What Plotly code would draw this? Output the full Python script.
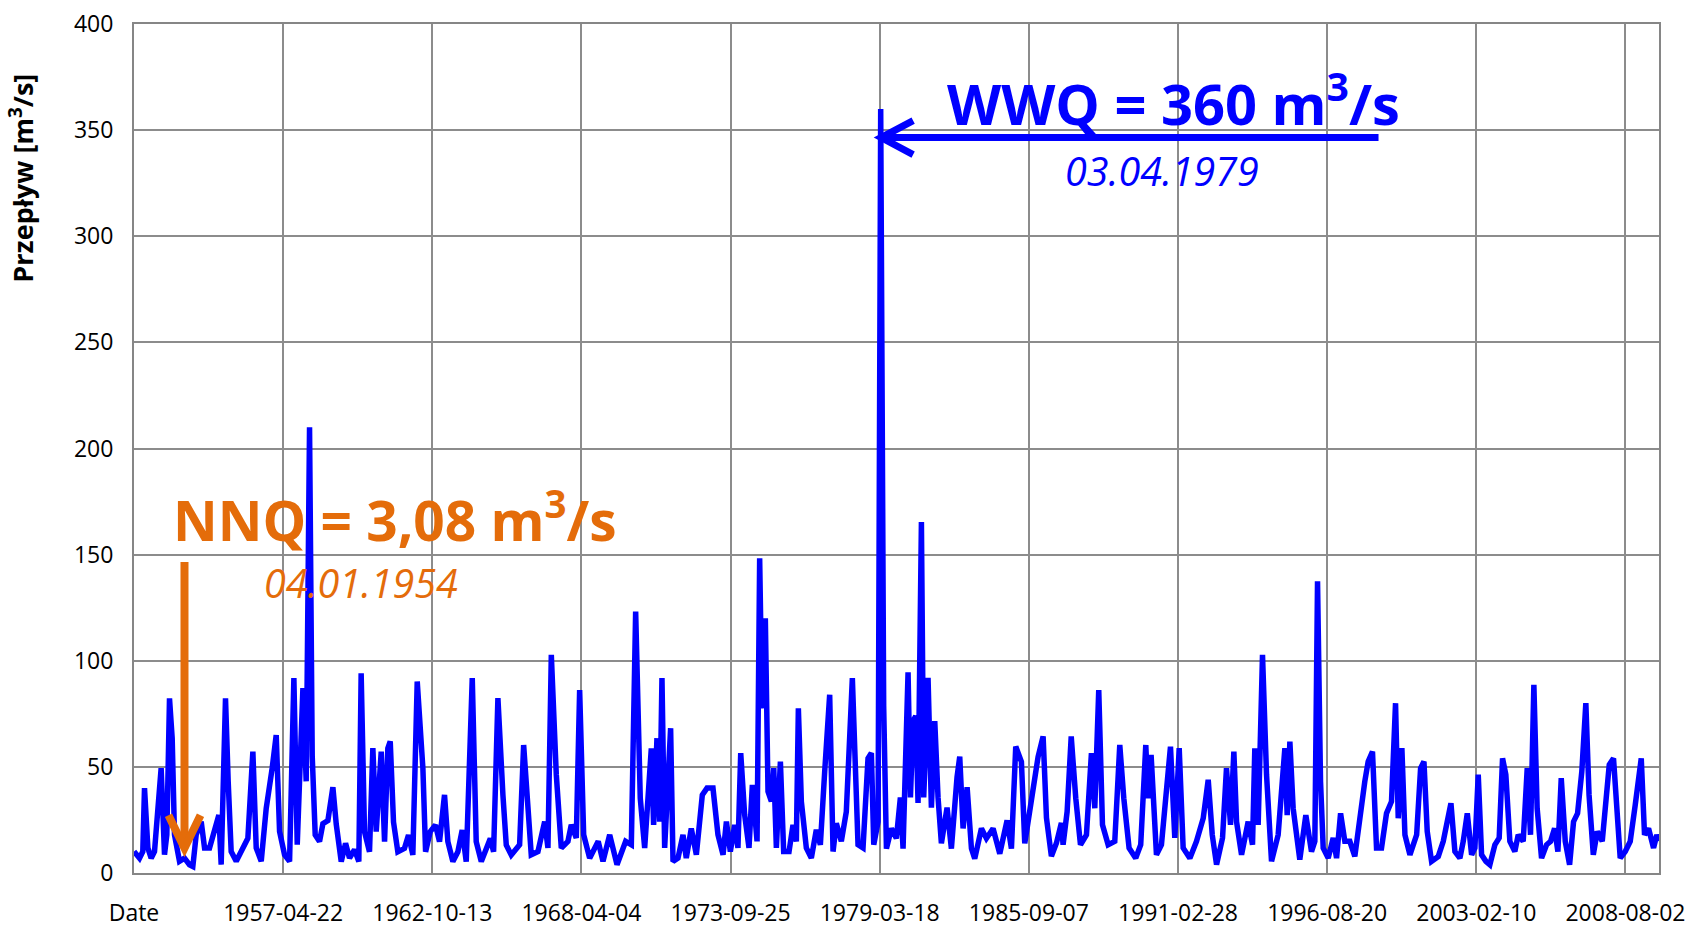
import plotly.graph_objects as go

# day index (category position, Excel-style) and daily flow
day_idx = [1, 74, 118, 141, 186, 230, 275, 320, 364, 409, 440, 476, 512, 543, 610, 677, 744, 789, 834, 901,
           946, 1013, 1080, 1138, 1169, 1227, 1263, 1303, 1371, 1460, 1527, 1594, 1639, 1706, 1773, 1853, 1907,
           1952, 2019, 2086, 2144, 2189, 2265, 2309, 2354, 2390, 2430,
           2488, 2533, 2600, 2667, 2712, 2779, 2837, 2890, 2957, 3015, 3046, 3091, 3158, 3203, 3248, 3315, 3360,
           3404, 3436, 3480, 3538, 3627, 3681, 3739, 3798, 3874, 3910, 3972, 4043, 4097, 4164, 4209, 4276, 4343,
           4401, 4455, 4536, 4589, 4657, 4724, 4778, 4822, 4880, 4947, 4992, 5059, 5148,
           5171, 5225, 5283, 5327, 5417, 5507, 5551, 5596, 5663, 5730, 5819, 5864, 5931, 5976, 6030, 6110, 6225,
           6289, 6379, 6477, 6593, 6669, 6727, 6789, 6848, 6937, 6968, 7013, 7049, 7080, 7116, 7196, 7228, 7295,
           7362, 7406, 7473, 7541, 7621, 7684,
           7764, 7831, 7899, 7944, 7997, 8055, 8099, 8136, 8189, 8247, 8292, 8355, 8390, 8422, 8466, 8502, 8547,
           8579, 8614, 8668, 8712, 8784, 8837, 8882, 8909, 8949, 9016, 9083, 9150, 9204, 9262, 9329, 9374, 9418,
           9485, 9552, 9633, 9664, 9709, 9776, 9843, 9888, 9920, 9978, 10013, 10053, 10090, 10157, 10223, 10277,
           10313, 10380, 10412, 10447, 10483, 10514, 10559, 10590, 10648, 10693, 10738, 10782, 10827, 10903, 10961,
           11037, 11073, 11118, 11172, 11230, 11274, 11364, 11431, 11520, 11610, 11708, 11766, 11824, 11900, 11945,
           12012, 12066, 12124, 12191, 12236, 12302, 12369, 12436,
           12459, 12513, 12568, 12629, 12692, 12772, 12839, 12884, 12937, 12987, 13063, 13152, 13219, 13273, 13344,
           13433, 13500, 13568, 13599, 13639, 13711, 13778, 13836, 13899, 13957, 14016, 14069, 14159, 14248, 14338,
           14405, 14459, 14517, 14597, 14650, 14704, 14749, 14785, 14852, 14941, 14999,
           15030, 15075, 15133, 15187, 15254, 15343, 15388, 15433, 15464, 15500, 15544, 15589, 15633, 15714, 15790,
           15835, 15871, 15911, 15947, 16014, 16081, 16126, 16180, 16237, 16304, 16371, 16461, 16505, 16550, 16608,
           16662, 16729, 16796, 16863, 16917, 16953, 17002, 17043, 17110, 17200, 17253, 17298, 17342, 17400, 17490,
           17557, 17660,
           17713, 17780, 17825, 17879, 17937, 17981, 18026, 18071, 18129, 18182, 18249, 18307, 18352, 18396, 18450,
           18517, 18562, 18629, 18683, 18727, 18772, 18816, 18875, 18942, 18996, 19050, 19094, 19139, 19193, 19251,
           19304, 19358, 19415, 19469, 19512, 19569, 19622, 19689, 19733, 19783, 19840, 19885, 19930, 19997, 20064,
           20131, 20212, 20256, 20310, 20377, 20421, 20448]
flow = [10.1, 7.0, 10.1, 40.0, 11.8, 7.0, 10.1, 27.3, 49.4, 8.6, 18.0, 82.3, 63.5, 18.0, 5.5, 7.0, 3.9, 3.1, 18.0, 24.2,
        11.8, 11.8, 19.6, 27.3, 3.9, 82.3, 43.2, 10.1, 5.5, 11.8, 16.4, 57.2, 11.8, 5.5, 30.5, 49.4, 65.0,
        19.6, 8.6, 5.5, 91.8, 13.3, 87.1, 43.2, 210.0, 55.0, 18.0,
        14.8, 23.2, 24.7, 40.4, 23.0, 5.4, 14.0, 7.0, 11.0, 5.4, 94.1, 19.5, 10.0, 58.8, 19.5, 57.2, 14.8,
        58.8, 62.0, 24.0, 10.0, 11.6, 17.9, 8.5, 90.2, 49.3, 10.0, 19.5, 22.6, 14.8, 36.8, 14.8, 5.4, 10.0,
        20.2, 5.4, 91.8, 14.8, 5.4, 11.6, 16.3, 10.0, 82.4, 36.8, 13.2, 8.5, 13.2,
        13.3, 60.3, 33.7, 8.6, 10.1, 24.2, 11.8, 102.8, 46.3, 11.8, 14.9, 22.7, 16.5, 86.2, 18.0, 7.0, 14.9,
        5.5, 18.0, 3.9, 14.9, 13.3, 123.2, 35.2, 11.8, 58.7, 22.7, 63.5, 24.2, 91.8, 11.8, 68.2, 5.5, 7.0,
        18.0, 7.0, 21.0, 8.6, 36.8, 40.0,
        40.0, 18.0, 8.6, 24.2, 10.1, 22.7, 11.8, 56.5, 27.3, 11.8, 41.5, 14.9, 148.3, 77.6, 120.0, 38.4, 33.7,
        49.4, 11.8, 52.5, 10.1, 10.1, 22.7, 14.9, 77.6, 33.7, 11.8, 7.0, 20.4, 13.3, 47.8, 84.0, 10.1, 23.4,
        14.9, 28.9, 91.8, 58.8, 13.3, 11.8, 54.0, 56.5, 13.3, 24.2, 360.0, 78.8, 11.5, 21.0, 16.3, 35.6,
        11.5, 94.5, 35.6, 71.6, 74.0, 33.0, 165.4, 35.6, 92.0, 30.8, 71.6, 35.6, 14.0, 30.8, 11.5,
        45.2, 54.8, 21.0, 40.4, 11.5, 6.7, 21.0, 16.3, 21.0, 9.1, 24.8, 11.5, 59.6, 52.4, 14.0,
        30.8, 40.4, 54.8, 64.4, 26.0, 7.9, 14.0, 23.6,
        13.3, 28.9, 64.3, 35.2, 13.3, 18.0, 56.5, 30.5, 86.2, 22.7, 13.3, 14.9, 60.3, 35.2, 11.8,
        7.0, 13.3, 60.3, 35.2, 55.7, 8.6, 13.3, 38.4, 59.5, 16.5, 58.8, 11.8, 7.0, 14.9, 25.8,
        43.9, 18.0, 3.9, 16.5, 49.4, 22.7, 57.2, 24.2, 8.6, 24.2, 13.3,
        58.8, 22.7, 102.8, 46.3, 5.5, 18.0, 41.5, 58.8, 27.3, 61.9, 30.5, 18.0, 6.3, 27.3, 10.1,
        14.9, 137.4, 43.2, 11.8, 7.0, 16.5, 7.0, 28.1, 14.9, 14.9, 7.8, 33.7, 43.2, 52.5, 57.2,
        11.8, 11.8, 28.1, 33.7, 80.0, 25.8, 58.8, 18.0, 8.6, 18.0, 49.4, 52.5, 19.6, 5.5, 7.8,
        14.9, 32.9,
        10.1, 7.0, 14.9, 28.1, 8.6, 11.8, 46.3, 8.6, 5.5, 3.9, 13.3, 16.5, 54.0, 46.3, 14.9,
        10.1, 18.0, 14.9, 49.4, 18.0, 88.7, 30.5, 7.0, 13.3, 14.9, 21.0, 10.1, 44.7, 14.9, 3.9,
        24.2, 28.1, 47.8, 80.0, 36.8, 8.6, 19.6, 14.9, 30.5, 51.0, 54.0, 27.3, 7.0, 10.1, 14.9,
        32.0, 54.0, 18.0, 21.0, 11.8, 18.0, 15.0]

tick_pos = [0, 2000, 4000, 6000, 8000, 10000, 12000, 14000, 16000, 18000, 20000]
tick_text = ["Date", "1957-04-22", "1962-10-13", "1968-04-04", "1973-09-25", "1979-03-18",
             "1985-09-07", "1991-02-28", "1996-08-20", "2003-02-10", "2008-08-02"]

X_MAX = 20450
BLUE = "#0000FF"
ORANGE = "#E46C0A"
GRID = "#8c8c8c"

# plot area size in px, used to size the arrow heads
PLOT_W, PLOT_H = 1525, 849
px_x = X_MAX / PLOT_W
px_y = 400 / PLOT_H

fig = go.Figure()
fig.add_trace(go.Scatter(x=day_idx, y=flow, mode="lines",
                         line=dict(color=BLUE, width=5.5), showlegend=False))

# WWQ arrow (horizontal, pointing at the 1979 peak)
wwq_tip = (10019, 346.5)
wwq_tail_x = 16689
# NNQ arrow (vertical, pointing down)
nnq_tip = (677, 11.7)
nnq_top = 146.5

shapes = [
    dict(type="line", xref="x", yref="y", x0=wwq_tip[0], y0=wwq_tip[1], x1=wwq_tail_x, y1=wwq_tip[1],
         line=dict(color=BLUE, width=7)),
    dict(type="path", xref="x", yref="y",
         path="M {a},{b} L {c},{d} L {a},{e}".format(
             a=wwq_tip[0] + 32 * px_x, b=wwq_tip[1] + 17 * px_y, c=wwq_tip[0], d=wwq_tip[1],
             e=wwq_tip[1] - 17 * px_y),
         line=dict(color=BLUE, width=7)),
    dict(type="line", xref="x", yref="y", x0=nnq_tip[0], y0=nnq_tip[1], x1=nnq_tip[0], y1=nnq_top,
         line=dict(color=ORANGE, width=8)),
    dict(type="path", xref="x", yref="y",
         path="M {a},{b} L {c},{d} L {e},{b}".format(
             a=nnq_tip[0] - 16 * px_x, b=nnq_tip[1] + 33 * px_y, c=nnq_tip[0], d=nnq_tip[1],
             e=nnq_tip[0] + 16 * px_x),
         line=dict(color=ORANGE, width=8)),
]

annotations = [
    dict(text="WWQ = 360 m<sup>3</sup>/s", x=13944, y=364.4, xref="x", yref="y", showarrow=False,
         xanchor="center", yanchor="middle",
         font=dict(family="Open Sans", size=56, color=BLUE, weight="bold")),
    dict(text="<i>03.04.1979</i>", x=13780, y=330.8, xref="x", yref="y", showarrow=False,
         xanchor="center", yanchor="middle",
         font=dict(family="Open Sans", size=39.5, color=BLUE)),
    dict(text="NNQ = 3,08 m<sup>3</sup>/s", x=3494, y=167.5, xref="x", yref="y", showarrow=False,
         xanchor="center", yanchor="middle",
         font=dict(family="Open Sans", size=55, color=ORANGE, weight="bold")),
    dict(text="<i>04.01.1954</i>", x=3040, y=136.5, xref="x", yref="y", showarrow=False,
         xanchor="center", yanchor="middle",
         font=dict(family="Open Sans", size=39.5, color=ORANGE)),
    dict(text="<b>Przepływ [m<sup>3</sup>/s]</b>", x=-0.074, y=0.818, xref="paper", yref="paper",
         showarrow=False, textangle=-90, xanchor="center", yanchor="middle",
         font=dict(family="Open Sans", size=27, color="black")),
]

fig.update_layout(
    width=1690, height=925,
    margin=dict(l=134, r=31, t=24, b=52),
    paper_bgcolor="white", plot_bgcolor="white",
    shapes=shapes, annotations=annotations,
    font=dict(family="Open Sans", color="black"),
)
fig.update_xaxes(range=[0, X_MAX], tickmode="array", tickvals=tick_pos, ticktext=tick_text,
                 showgrid=True, gridcolor=GRID, gridwidth=1.5, zeroline=False,
                 showline=True, linecolor="#868686", linewidth=2, mirror=True,
                 tickfont=dict(family="Open Sans", size=23, color="black"),
                 ticklabelstandoff=18, ticklabeloverflow="allow", automargin=False)
fig.update_yaxes(range=[0, 400], dtick=50, tick0=0,
                 showgrid=True, gridcolor=GRID, gridwidth=1.5, zeroline=False,
                 showline=True, linecolor="#868686", linewidth=2, mirror=True,
                 tickfont=dict(family="Open Sans", size=23, color="black"),
                 ticklabelstandoff=14, automargin=False)

# page body has a default 8px margin; drop it so the figure sits at the window corner
fig.write_html("out.html", config={"displayModeBar": False},
               post_script="document.body.style.margin='0';document.body.style.overflow='hidden';")
